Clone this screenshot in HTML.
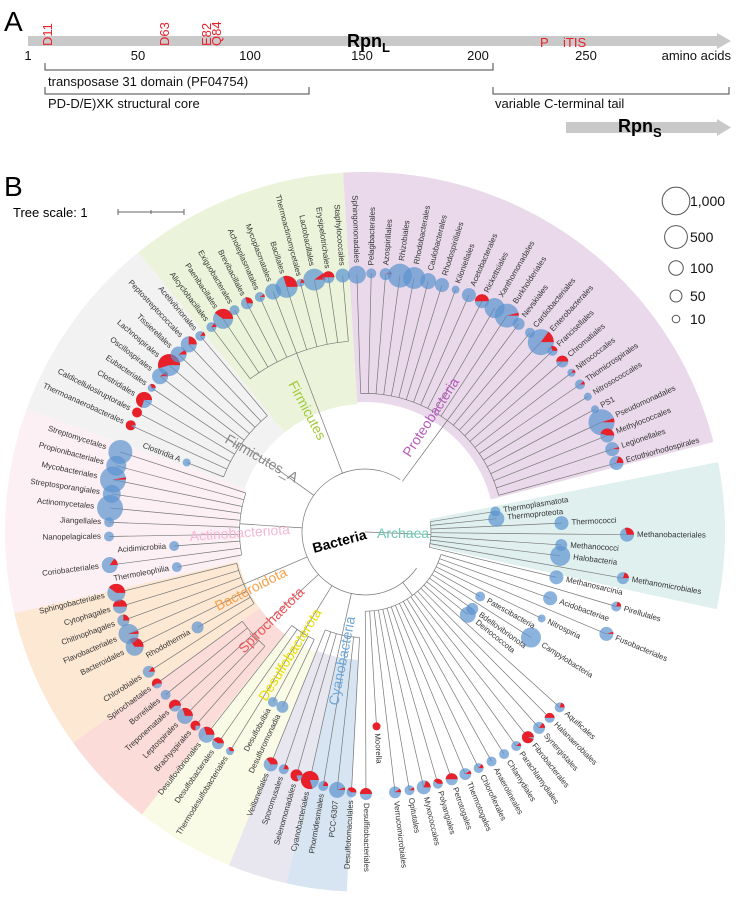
<!DOCTYPE html>
<html><head><meta charset="utf-8"><style>
html,body{margin:0;padding:0;background:#fff;}
svg{display:block;font-family:"Liberation Sans",sans-serif;}
</style></head>
<body>
<svg id="fig" width="736" height="899" viewBox="0 0 736 899" xmlns="http://www.w3.org/2000/svg">
  <g>
    <text x="4" y="31" font-size="28" fill="#000">A</text>
    <path d="M28 36 H717 V33 L731 41 L717 49 V46 H28 Z" fill="#c9c9c9"/>
    <g fill="#e8202a" font-size="13">
      <text transform="translate(52,46) rotate(-90)">D11</text>
      <text transform="translate(169,46) rotate(-90)">D63</text>
      <text transform="translate(211,46) rotate(-90)">E82</text>
      <text transform="translate(221,46) rotate(-90)">Q84</text>
      <text x="540" y="47">P</text>
      <text x="563" y="47">iTIS</text>
    </g>
    <text x="347" y="47" font-size="18" font-weight="bold">Rpn<tspan font-size="13" dy="5">L</tspan></text>
    <g font-size="13" fill="#111">
      <text x="28" y="60" text-anchor="middle">1</text>
      <text x="138" y="60" text-anchor="middle">50</text>
      <text x="250" y="60" text-anchor="middle">100</text>
      <text x="362" y="60" text-anchor="middle">150</text>
      <text x="478" y="60" text-anchor="middle">200</text>
      <text x="586" y="60" text-anchor="middle">250</text>
      <text x="731" y="60" text-anchor="end">amino acids</text>
    </g>
    <g stroke="#444" stroke-width="1" fill="none">
      <path d="M45 63 V70 H493 V63"/>
      <path d="M45 87 V94 H309 V87"/>
      <path d="M493 87 V94 H729 V87"/>
    </g>
    <g font-size="13" fill="#111">
      <text x="48" y="86">transposase 31 domain (PF04754)</text>
      <text x="48" y="108">PD-D/E)XK structural core</text>
      <text x="495" y="108">variable C-terminal tail</text>
    </g>
    <path d="M566 122 H717 V119 L731 127.5 L717 136 V133 H566 Z" fill="#c9c9c9"/>
    <text x="618" y="132" font-size="18" font-weight="bold">Rpn<tspan font-size="13" dy="5">S</tspan></text>
  </g>
  <g id="panelB">
    <text x="4" y="196" font-size="28">B</text>
    <g id="sectors"></g>
    <g id="branches" stroke="#777" stroke-width="0.7" fill="none"></g>
    <g id="pies"></g>
    <g id="labels" font-size="7.9" fill="#333"></g>
    <g id="cladeLabels"></g>
    <text x="13" y="217" font-size="13">Tree scale: 1</text>
    <path d="M118 212 H184 M118 209 V215 M151 210 V214 M184 209 V215" stroke="#666" stroke-width="1" fill="none"/>
    <g id="legend"></g>
  </g>
</svg>
<script>
const leafNames = ["Sphingomonadales","Pelagibacterales","Azospirillales","Rhizobiales","Rhodobacterales","Caulobacterales","Rhodospirillales","Kiloniellales","Acetobacterales","Rickettsiales","Xanthomonadales","Burkholderiales","Nevskiales","Cardiobacteriales","Enterobacterales","Francisellales","Chromatiales","Nitrococcales","Thiomicrospirales","Nitrosococcales","PS1","Pseudomonadales","Methylococcales","Legionellales","Ectothiorhodospirales",null,"Thermoplasmatota","Thermoproteota","Thermococci","Methanobacteriales","Methanococci","Halobacteria","Methanomicrobiales","Methanosarcinia","Pirellulales","Acidobacteriae","Fusobacteriales","Nitrospiria","Patescibacteria","Campylobacteria","Bdellovibrionota","Deinococcota","Aquificales","Halanaerobiales","Synergistales","Fibrobacterales","Parachlamydiales","Chlamydiales","Anaerolineales","Chloroflexales","Thermotogales","Petrotogales","Polyangiales","Myxococcales","Opitutales","Verrucomicrobiales","Moorella","Desulfitobacteriales","Desulfotomaculales","PCC-6307","Phormidesmiales","Cyanobacteriales","Selenomonadales","Sporomusales","Veillonellales","Desulfuromonadia","Desulfobulbia","Thermodesulfobacteriales","Desulfobacterales","Desulfovibrionales","Brachyspirales","Leptospirales","Treponematales","Borreliales","Spirochaetales","Chlorobiales","Rhodothermia","Bacteroidales","Flavobacteriales","Chitinophagales","Cytophagales","Sphingobacteriales","Thermoleophilia","Coriobacteriales","Acidimicrobiia","Nanopelagicales","Jiangellales","Actinomycetales","Streptosporangiales","Mycobacteriales","Propionibacteriales","Streptomycetales","Clostridia A","Thermoanaerobacterales","Caldicellulosiruptorales","Clostridiales","Eubacteriales","Oscillospirales","Lachnospirales","Tissierellales","Peptostreptococcales","Acetivibrionales","Alicyclobacillales","Paenibacillales","Exiguobacterales","Brevibacillales","Acholeplasmatales","Mycoplasmatales","Bacillales","Thermoactinomycetales","Lactobacillales","Erysipelotrichales","Staphylococcales"];
const leafDepth = [3.9,3.92,3.92,3.92,3.92,3.92,3.92,3.92,3.92,3.92,3.92,3.92,3.92,3.92,3.92,3.95,3.95,3.95,3.95,3.95,3.95,3.95,3.95,3.95,3.95,0,2.0,2.0,2.98,3.97,2.98,2.98,3.97,2.98,3.97,2.98,3.97,2.98,2.0,2.98,2.0,2.0,3.97,3.97,3.97,3.97,3.97,3.97,3.97,3.97,3.97,3.97,3.97,3.97,3.97,3.97,2.95,3.97,3.95,3.93,3.9,3.85,3.83,3.8,3.8,2.93,2.93,3.9,3.9,3.9,3.9,3.9,3.9,3.9,3.9,3.9,2.92,3.9,3.9,3.9,3.88,3.88,2.9,3.9,2.9,3.88,3.88,3.88,3.88,3.9,3.9,3.9,2.9,3.9,3.9,3.9,3.9,3.9,3.9,3.9,3.9,3.88,3.88,3.88,3.9,3.9,3.9,3.9,3.9,3.9,3.9,3.9,3.9];
const leafCount = [215,26,50,600,442,141,88,12,88,88,315,600,50,26,800,26,50,12,26,12,12,800,88,88,88,0,26,141,88,88,50,315,50,88,26,88,88,12,26,315,50,141,26,26,50,50,26,26,26,26,50,50,26,88,26,50,12,50,26,141,26,215,50,26,88,50,26,12,50,141,26,141,50,26,26,50,50,215,315,50,88,215,26,141,26,26,26,800,215,800,315,600,12,26,26,141,12,141,442,141,141,26,26,315,26,50,26,141,442,12,442,50,88];
const leafRed = [0,0,0.05,0,0,0,0,0,0,0.5,0,0.04,0,0,0.15,0.3,0.5,0.15,0.12,0,0,0.05,0.45,0.05,0.2,0,0,0,0,0.3,0,0,0.2,0,0.2,0,0.05,0,0,0,0,0,0.2,0.5,0.15,0.95,0.12,0,0,0.15,0.1,0.5,0.4,0.2,0.1,0.1,1,0.5,0.4,0.05,0.2,0.8,0.8,0.2,0.35,0,0,0.3,0.4,0.3,0.75,0.3,0.6,0,0.6,0.15,0,0.35,0.05,0.25,0.5,0.4,0,0.15,0,0,0,0,0,0.03,0,0,0,0.9,1,0.7,0.3,0.1,0.55,0.1,0.25,0.15,0.15,0.4,0,0.3,0.1,0,0.3,0.2,0.1,0.5,0];
const legendValues = [1000,500,100,50,10];
const legendTexts = ["1,000","500","100","50","10"];

const SVGNS="http://www.w3.org/2000/svg";
const C={x:365,y:532}, U=66, START=-1.8, STEP=360/113, ROOT_R=63;
function ang(i){return START+i*STEP;}
function pol(t,r){const a=t*Math.PI/180;return [C.x+r*Math.sin(a),C.y-r*Math.cos(a)];}
function sizeR(n){return 2*Math.pow(n,0.28);}
function el(tag,attrs,parent){const e=document.createElementNS(SVGNS,tag);for(const k in attrs)e.setAttribute(k,attrs[k]);parent.appendChild(e);return e;}
function arcPath(t1,t2,r){const a=pol(t1,r),b=pol(t2,r);const large=(t2-t1)>180?1:0;return `M${a[0]},${a[1]} A${r},${r} 0 ${large} 1 ${b[0]},${b[1]}`;}

const sectors=[
 {n:"proteobacteria-range",a:-3.5,b:75.5,ri:130,c:"#ead9ea"},
 {n:"archaea-range",a:78.8,b:102.4,ri:66,c:"#dff0ee"},
 {n:"cyanobacteria-range",a:182.9,b:192.6,ri:128,c:"#d6e5f1"},
 {n:"lavender-range",a:192.6,b:202.2,ri:128,c:"#e8e7f0"},
 {n:"desulfobacterota-range",a:202.2,b:218.3,ri:130,c:"#fafbe6"},
 {n:"spirochaetota-range",a:218.3,b:234.2,ri:130,c:"#fbdcd8"},
 {n:"bacteroidota-range",a:234.2,b:257,ri:130,c:"#fde8d3"},
 {n:"actinobacteriota-range",a:257,b:290,ri:127,c:"#fdf0f5"},
 {n:"firmicutes-a-range",a:290,b:321,ri:128,c:"#f2f2f2"},
 {n:"firmicutes-range",a:321,b:356.5,ri:128,c:"#ebf4da"}];
const sg=document.getElementById('sectors');
sectors.forEach(s=>{
  const R=360;const o1=pol(s.a,R),o2=pol(s.b,R),i2=pol(s.b,s.ri),i1=pol(s.a,s.ri);
  const p=el('path',{d:`M${o1} A${R},${R} 0 0 1 ${o2} L${i2} A${s.ri},${s.ri} 0 0 0 ${i1} Z`,fill:s.c},sg);
  
  
});

const groups=[[0,24,2.1],[26,33,1.0],[34,57,1.2],[58,64,1.6],[65,69,1.8],[70,74,2.3],[75,81,2.0],[82,91,1.9],[92,101,2.3],[102,112,2.9]];
const bg=document.getElementById('branches');
const rootArc=el('path',{d:arcPath(125,394,ROOT_R)},bg);


groups.forEach((g,gi)=>{
  const a1=ang(g[0]),a2=ang(g[1]),mid=(a1+a2)/2,nr=g[2]*U;
  const r0=(gi===1)?0:ROOT_R;
  const s0=pol(mid,r0),s1=pol(mid,nr);
  const stem=el('path',{d:`M${s0} L${s1}`},bg);
  
  
  const arc=el('path',{d:arcPath(a1,a2,nr)},bg);
  
  
  for(let i=g[0];i<=g[1];i++){
    if(!leafNames[i])continue;
    const rr=leafDepth[i]*U;const a=pol(ang(i),nr),b=pol(ang(i),rr);
    const ln=el('path',{d:`M${a} L${b}`},bg);
    
    
  }
});

const pg=document.getElementById('pies'), lg=document.getElementById('labels');
leafNames.forEach((nm,i)=>{
  if(!nm)return;
  const t=ang(i), r=leafDepth[i]*U, cr=sizeR(leafCount[i]), f=leafRed[i];
  const [cx,cy]=pol(t,r);
  const g=el('g',{},pg);
  
  
  if(f>=0.99){el('circle',{cx:cx,cy:cy,r:cr,fill:'#e8202a'},g);}
  else{
    el('circle',{cx:cx,cy:cy,r:cr,fill:'#5b93cf','fill-opacity':0.7},g);
    if(f>0){
      const e=f*2*Math.PI;const x2=cx+cr*Math.cos(e),y2=cy-cr*Math.sin(e);
      el('path',{d:`M${cx},${cy} L${cx+cr},${cy} A${cr},${cr} 0 ${f>0.5?1:0} 0 ${x2},${y2} Z`,fill:'#e8202a'},g);
    }
  }
  const lr=r+Math.max(cr,4)+3;const [lx,ly]=pol(t,lr);
  const tn=((t%360)+360)%360;const right=tn<180;
  const rot=right?tn-90:tn-270;
  const tx=el('text',{x:lx,y:ly,'text-anchor':right?'start':'end','dominant-baseline':'middle',transform:`rotate(${rot},${lx},${ly})`},lg);
  tx.textContent=nm;
  
  
});

const cl=document.getElementById('cladeLabels');
const cladeTexts=[["Firmicutes",288,384,62,"#a2c93a","label-firmicutes"],["Proteobacteria",410,458,-57,"#b65cbb","label-proteobacteria"],["Firmicutes_A",224,442,30,"#888","label-firmicutes-a"],["Actinobacteriota",190,541,-4,"#f6b7d2","label-actinobacteriota"],["Bacteroidota",218,611,-27,"#f7a04a","label-bacteroidota"],["Spirochaetota",244,654,-45,"#f0555a","label-spirochaetota"],["Desulfobacterota",266,702,-58,"#e8dc00","label-desulfobacterota"],["Cyanobacteria",338,706,-79,"#6ea7da","label-cyanobacteria"],["Archaea",377,538,0,"#6cc9b2","label-archaea"]];
cladeTexts.forEach(c=>{
  const t=el('text',{x:c[1],y:c[2],fill:c[4],'font-size':14,transform:`rotate(${c[3]},${c[1]},${c[2]})`},cl);
  t.textContent=c[0];
  
  
});
const bt=el('text',{x:314,y:553,'font-size':14,'font-weight':'bold',fill:'#000',transform:'rotate(-15,314,553)'},cl);
bt.textContent="Bacteria";



const leg=document.getElementById('legend');
const legY=[201,237,268,296,319];
legendValues.forEach((v,i)=>{
  const c=el('circle',{cx:676,cy:legY[i],r:sizeR(v),fill:'none',stroke:'#555','stroke-width':1},leg);
  
  
  const t=el('text',{x:690,y:legY[i]+5,'font-size':14,fill:'#111'},leg);
  t.textContent=legendTexts[i];
  
  
});
</script>
</body></html>
